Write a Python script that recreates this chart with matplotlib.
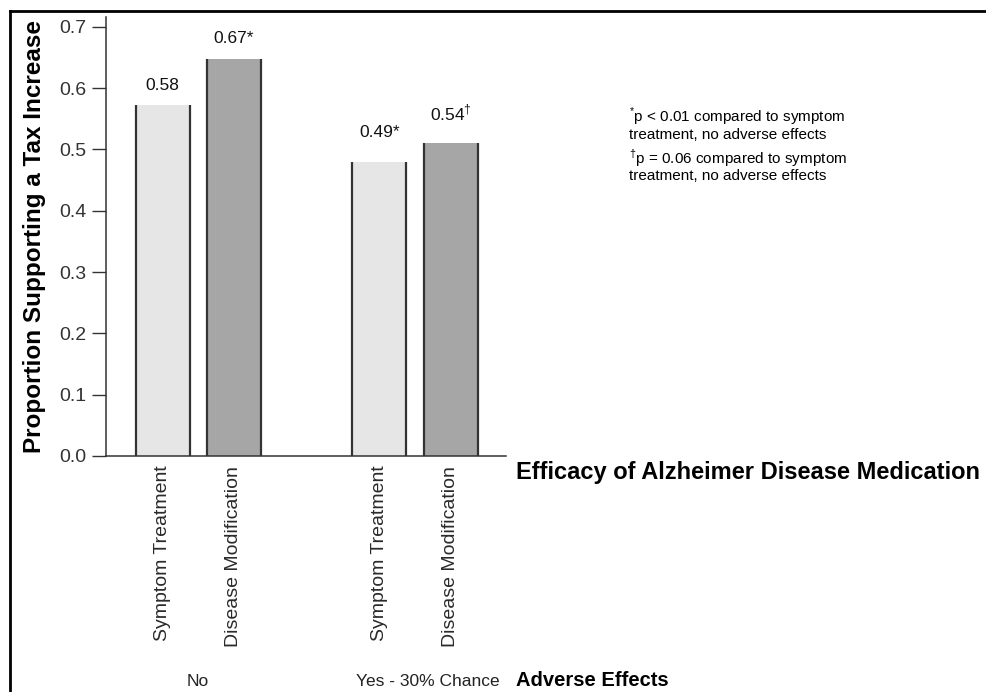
import matplotlib
matplotlib.use('Agg')
import matplotlib.pyplot as plt
from matplotlib.lines import Line2D

# values
categories = ['Symptom Treatment', 'Disease Modification',
              'Symptom Treatment', 'Disease Modification']
groups = ['No', 'Yes - 30% Chance']
heights = [0.573, 0.647, 0.480, 0.511]
bar_labels = ['0.58', '0.67*', '0.49*', '0.54$^{\\dagger}$']
label_offsets = [14, 15, 21, 21]   # points above bar top
positions = [1.03, 2.32, 4.97, 6.27]
group_pos = [1.675, 5.85]
colors = ['#e6e6e6', '#a6a6a6', '#e6e6e6', '#a6a6a6']
yticks = [0.0, 0.1, 0.2, 0.3, 0.4, 0.5, 0.6, 0.7]

footnotes = ['$^{*}$p < 0.01 compared to symptom\ntreatment, no adverse effects',
             '$^{\\dagger}$p = 0.06 compared to symptom\ntreatment, no adverse effects']

plt.rcParams['font.family'] = ['Liberation Sans', 'DejaVu Sans']
plt.rcParams['mathtext.fontset'] = 'custom'
plt.rcParams['mathtext.rm'] = 'Liberation Sans'

fig = plt.figure(figsize=(9.87, 6.92), dpi=100)
ax = fig.add_axes([106 / 987, 1 - 456 / 692, 400 / 987, (456 - 17) / 692])

width = 0.98
ax.bar(positions, heights, width=width, color=colors, linewidth=0)
left_edges = [p - width / 2 for p in positions]
right_edges = [p + width / 2 for p in positions]
ax.vlines(left_edges + right_edges, 0, heights + heights, color='#333333', lw=1.6)

for p, h, lab, off in zip(positions, heights, bar_labels, label_offsets):
    ax.annotate(lab, (p, h), xytext=(0, off), textcoords='offset points',
                ha='center', va='center', fontsize=12.5, color='#111111')

ax.set_xlim(0, 7.27)
ax.set_ylim(0, 0.716)
ax.set_yticks(yticks)
ax.set_yticklabels([f'{t:.1f}' for t in yticks], fontsize=14, color='#333333')
ax.tick_params(axis='y', length=10, width=1, color='#333333', pad=4)
ax.set_xticks(positions)
ax.set_xticklabels(categories, rotation=90, fontsize=14, color='#2a2a2a', va='top')
ax.tick_params(axis='x', length=0, pad=7)
for s in ['top', 'right']:
    ax.spines[s].set_visible(False)
for s in ['left', 'bottom']:
    ax.spines[s].set_color('#333333')
    ax.spines[s].set_linewidth(1.1)

ax.set_ylabel('Proportion Supporting a Tax Increase', fontsize=17.5, fontweight='bold')
ax.yaxis.set_label_coords(-60 / 400, 0.5)

for g, gp in zip(groups, group_pos):
    ax.text(gp, -(681 - 456) / 439, g, transform=ax.get_xaxis_transform(),
            fontsize=12.5, ha='center', va='center', color='#222222')

# long axis title: the original runs to the edge, kept just inside here
fig.text(516 / 987, 1 - 472 / 692, 'Efficacy of Alzheimer Disease Medication',
         fontsize=17.0, fontweight='bold', va='center', ha='left')
fig.text(516 / 987, 1 - 680 / 692, 'Adverse Effects',
         fontsize=14.5, fontweight='bold', va='center', ha='left')

fig.text(629 / 987, 1 - 124 / 692, footnotes[0], fontsize=11, va='center',
         ha='left', linespacing=1.05)
fig.text(629 / 987, 1 - 165 / 692, footnotes[1], fontsize=11, va='center',
         ha='left', linespacing=1.05)

# outer frame (top and left only)
fig.add_artist(Line2D([10 / 987, 1], [1 - 11 / 692, 1 - 11 / 692],
                      transform=fig.transFigure, color='black', lw=2))
fig.add_artist(Line2D([10 / 987, 10 / 987], [0, 1 - 11 / 692],
                      transform=fig.transFigure, color='black', lw=2))

fig.savefig('out.png', dpi=100)
